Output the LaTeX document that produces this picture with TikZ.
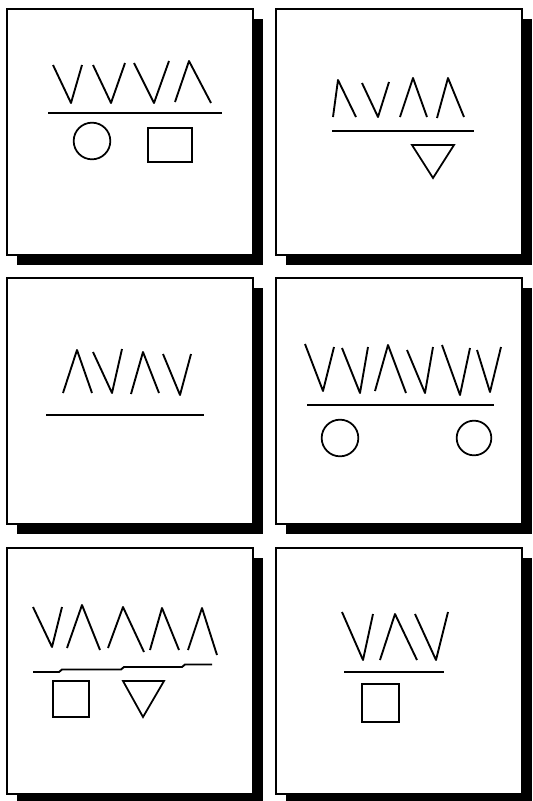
\documentclass[tikz,border=0pt]{standalone}
\usetikzlibrary{shadows}

\begin{document}
\begin{tikzpicture}[
    x=0.03cm, y=-0.03cm,
    panel/.style={
        draw, fill=white, line width=1.6pt,
        minimum width=7.38cm, minimum height=7.38cm, inner sep=0pt,
        general shadow={fill=black, shadow xshift=0.3cm, shadow yshift=-0.3cm}
    },
    glyph/.style={line width=1.6pt, line join=round},
    bar/.style={line width=1.6pt},
    token/.style={line width=1.5pt},
]
\useasboundingbox[fill=white] (0,0) rectangle (533,801);

% --- Frames ---
\node[panel] (F11) at (130,132) {};
\node[panel] (F12) at (399,132) {};
\node[panel] (F21) at (130,401) {};
\node[panel] (F22) at (399,401) {};
\node[panel] (F31) at (130,671) {};
\node[panel] (F32) at (399,671) {};

% --- Top left: VVVA, circle and box ---
\draw[glyph] (53,65) -- (71,103) -- (82,65)
             (93,65) -- (111,103) -- (125,63)
             (134,63) -- (154,103) -- (169,61)
             (175,102) -- (189,61) -- (211,103);
\draw[bar] (48,113) -- (222,113);
\draw[token] (92,141) circle[radius=0.55cm];
\draw[token] (148,128) rectangle (192,162);

% --- Top right: AVAA, triangle ---
\draw[glyph] (333,117) -- (338,80) -- (356,117)
             (362,83) -- (378,117) -- (389,82)
             (400,117) -- (413,78) -- (427,117)
             (437,118) -- (448,78) -- (464,117);
\draw[bar] (332,131) -- (474,131);
\draw[token] (412,145) -- (454,145) -- (433,178) -- cycle;

% --- Middle left: AVAV, nothing below ---
\draw[glyph] (63,393) -- (77,350) -- (92,393)
             (93,352) -- (112,393) -- (122,349)
             (131,394) -- (143,352) -- (159,393)
             (163,354) -- (180,395) -- (191,354);
\draw[bar] (46,415) -- (204,415);

% --- Middle right: VVAVVV, two circles ---
\draw[glyph] (305,344) -- (323,391) -- (334,347)
             (342,348) -- (360,393) -- (368,347)
             (375,391) -- (388,345) -- (406,393)
             (407,350) -- (425,393) -- (433,347)
             (442,345) -- (460,395) -- (470,348)
             (477,350) -- (490,392) -- (501,347);
\draw[bar] (307,405) -- (494,405);
\draw[token] (340,438) circle[radius=0.55cm];
\draw[token] (474,438) circle[radius=0.52cm];

% --- Bottom left: VAAAA, box and triangle ---
\draw[glyph] (33,607) -- (52,647) -- (62,607)
             (67,648) -- (82,605) -- (100,650)
             (108,648) -- (123,607) -- (144,652)
             (150,650) -- (162,608) -- (179,650)
             (188,650) -- (202,608) -- (217,655);
\draw[bar] (33,672) -- (59,672) -- (62,669.5) -- (121,669.5) -- (124,667)
           -- (182,667) -- (185,664.5) -- (212,664.5);
\draw[token] (53,681) rectangle (89,717);
\draw[token] (123,681) -- (164,681) -- (143,717) -- cycle;

% --- Bottom right: VAV, box ---
\draw[glyph] (342,612) -- (363,660) -- (373,614)
             (380,660) -- (395,614) -- (417,660)
             (415,614) -- (436,660) -- (448,612);
\draw[bar] (344,672) -- (444,672);
\draw[token] (362,684) rectangle (399,722);

\end{tikzpicture}
\end{document}
